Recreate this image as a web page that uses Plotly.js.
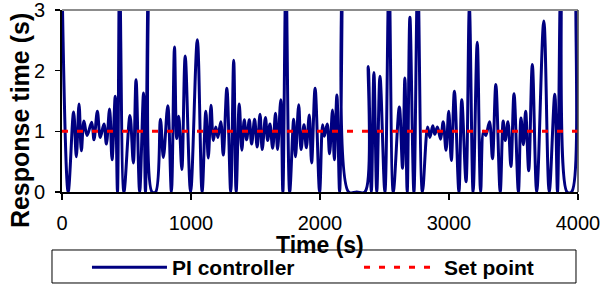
<!DOCTYPE html>
<html>
<head>
<meta charset="utf-8">
<script src="https://cdn.plot.ly/plotly-3.0.1.min.js"></script>
<style>html,body{margin:0;padding:0;background:#fff;}#chart{width:603px;height:288px;}</style>
</head>
<body>
<div id="chart"></div>
<script>
var time = [0,48,90,111,132,150,170,194,230,248,274,297,325,344,369,388,413,430,447,480,527,553,574,602,632,647,670,698,726,763,786,820,848,872,889,905,929,955,997,1049,1086,1115,1134,1155,1173,1192,1208,1231,1250,1278,1308,1331,1350,1374,1394,1413,1431,1452,1470,1493,1513,1535,1552,1577,1594,1612,1633,1655,1671,1696,1712,1736,1765,1796,1810,1835,1853,1876,1894,1917,1935,1962,1997,2020,2034,2056,2074,2097,2111,2131,2152,2187,2222,2285,2348,2374,2398,2418,2440,2465,2503,2535,2568,2615,2640,2658,2676,2697,2728,2758,2794,2834,2852,2874,2890,2910,2935,2955,2977,2998,3018,3042,3077,3099,3132,3158,3187,3219,3245,3268,3285,3314,3337,3363,3397,3420,3436,3457,3480,3504,3538,3558,3577,3594,3618,3646,3680,3735,3777,3820,3841,3868,3915,3950,3985,4000];
var response = [3.5,0,1.32,0.58,1.45,0.68,1.17,0.93,1.15,0.86,1.33,0.90,1.12,0.79,1.37,0.53,1.58,0,3.6,0,1.26,0.48,1.85,0,1.63,0,3.6,0,0,1.20,0.57,1.42,0,2.39,0.88,1.25,0.37,2.24,0,2.51,0,1.33,0.56,1.43,0.85,1.07,0.90,1.16,0.61,1.71,0,2.17,0,1.45,0.69,1.19,0.86,1.19,0.79,1.20,0.74,1.28,0.70,1.23,0.85,1.12,0.72,1.30,0.70,1.52,0,3.6,0,1.20,0.58,1.44,0.70,1.11,0.73,1.27,0.48,1.71,0,1.11,0.92,1.12,0.63,1.35,0.53,1.60,0,5.5,0,0,0,2.07,0,1.97,0,1.91,0,3.6,0,1.40,0.39,1.88,0,2.88,0,3.6,0,1.07,0.90,1.09,0.95,1.07,0.87,1.16,0.69,1.33,0.52,1.66,0,1.52,0.17,3.05,0,2.47,0,1.00,0.93,1.16,0.55,1.77,0,1.17,0.85,1.16,0.42,1.62,0,1.22,0.78,1.33,0.35,2.10,0,2.82,0,1.61,0,3.6,0,0,3.6,4.0];
var setTime = [0, 4000];
var setValue = [1, 1];
var xTicks = [0, 1000, 2000, 3000, 4000];
var yTicks = [0, 1, 2, 3];
var seriesNames = ['PI controller', 'Set point'];
var yTitle = 'Response time (s)';
var xTitle = 'Time (s)';

var FONT = 'Arial, "Liberation Sans", sans-serif';
var legendFont = {family: FONT, size: 21, color: '#000', weight: 'bold'};

var traces = [
  {x: time, y: response, name: seriesNames[0], type: 'scatter', mode: 'lines', legend: 'legend',
   line: {color: '#000080', width: 3, shape: 'spline', smoothing: 1}},
  {x: setTime, y: setValue, name: seriesNames[1], type: 'scatter', mode: 'lines', legend: 'legend2',
   line: {color: '#ff0000', width: 3, dash: '6px,9px'}}
];

var layout = {
  width: 603, height: 288,
  margin: {l: 62, r: 25, t: 10, b: 0, autoexpand: false},
  paper_bgcolor: '#ffffff', plot_bgcolor: '#ffffff',
  font: {family: FONT, color: '#000'},
  showlegend: true,
  xaxis: {
    range: [0, 4000], tickvals: xTicks, ticktext: xTicks.map(String),
    ticks: 'outside', ticklen: 6, tickwidth: 1.5, tickcolor: '#000',
    showline: true, linecolor: '#000', linewidth: 2,
    showgrid: false, zeroline: false, automargin: false,
    tickfont: {family: FONT, size: 20, color: '#000'},
    ticklabelstandoff: 6, ticklabeloverflow: 'allow'
  },
  yaxis: {
    domain: [0.34532, 1],
    range: [0, 3], tickvals: yTicks, ticktext: yTicks.map(String),
    ticks: 'outside', ticklen: 5, tickwidth: 1.5, tickcolor: '#000',
    showline: true, linecolor: '#000', linewidth: 2,
    showgrid: false, zeroline: false, automargin: false,
    tickfont: {family: FONT, size: 20, color: '#000'},
    ticklabelstandoff: 6, ticklabeloverflow: 'allow'
  },
  annotations: [
    {text: yTitle, textangle: -90, xref: 'paper', yref: 'paper',
     x: -0.0814, y: 0.604, xanchor: 'center', yanchor: 'middle', showarrow: false,
     font: {family: FONT, size: 25, color: '#000', weight: 'bold'}},
    {text: xTitle, xref: 'paper', yref: 'paper',
     x: 0.5, y: 0.1547, xanchor: 'center', yanchor: 'middle', showarrow: false,
     font: {family: FONT, size: 23, color: '#000', weight: 'bold'}}
  ],
  shapes: [
    {type: 'line', xref: 'x domain', yref: 'y domain', x0: 0, x1: 1, y0: 1, y1: 1, line: {color: '#8c8c8c', width: 2}},
    {type: 'line', xref: 'x domain', yref: 'y domain', x0: 1, x1: 1, y0: 0, y1: 1, line: {color: '#404040', width: 1.5}},
    {type: 'rect', xref: 'paper', yref: 'paper', x0: -0.0194, x1: 0.9961, y0: 0.018, y1: 0.1367,
     line: {color: '#000', width: 1}, fillcolor: 'rgba(0,0,0,0)'}
  ],
  legend: {
    orientation: 'h', x: 0.0484, y: 0.1475, xanchor: 'left', yanchor: 'top',
    borderwidth: 0, bgcolor: 'rgba(0,0,0,0)', font: legendFont, itemwidth: 75
  },
  legend2: {
    orientation: 'h', x: 0.5756, y: 0.1475, xanchor: 'left', yanchor: 'top',
    borderwidth: 0, bgcolor: 'rgba(0,0,0,0)', font: legendFont, itemwidth: 75
  }
};

Plotly.newPlot('chart', traces, layout, {displayModeBar: false, staticPlot: true});
</script>
</body>
</html>
